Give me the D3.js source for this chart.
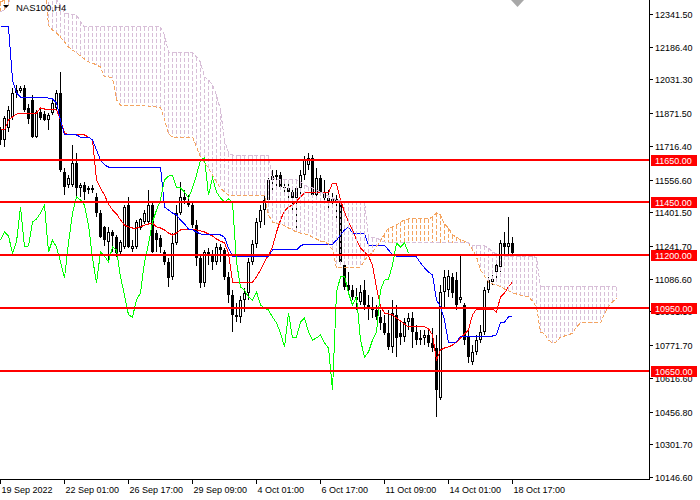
<!DOCTYPE html>
<html><head><meta charset="utf-8">
<script src="https://cdn.jsdelivr.net/npm/d3@7"></script>
<style>
html,body{margin:0;padding:0;background:#fff;}
svg{display:block;}
text{font-family:"Liberation Sans",Arial,sans-serif;}
</style></head><body>
<svg id="c" width="700" height="500"></svg>
<script>
// ---- DATA (NAS100, H4) ----
const opens = [11792,11744,11801,11853,11967,11976,11991,11896,11934,11758,
11877,11867,11839,11872,11896,11967,11592,11531,11531,11635,
11517,11531,11507,11507,11474,11398,11332,11261,11308,11284,
11213,11237,11436,11227,11237,11327,11355,11355,11436,11303,
11280,11213,11166,11095,11256,11398,11474,11446,11436,11341,
11185,11066,11213,11194,11166,11237,11223,11095,11009,10915,
10905,10986,11019,11166,11251,11355,11412,11460,11555,11573,
11578,11521,11517,11498,11469,11517,11578,11626,11659,11483,
11564,11498,11469,11450,11465,11450,11152,11057,11033,11000,
10976,11033,10962,10948,10938,10905,10877,10829,10763,10915,
10829,10810,10881,10900,10834,10796,10806,10820,10782,10758,
10521,11024,11033,11095,11080,10986,10962,10810,10692,10739,
10796,10834,11033,11071,11118,11142,11256,11237,11256];
const highs = [11806,11858,11905,11991,12005,12000,12005,11915,11958,11886,
11896,11882,11872,11934,11981,12067,11611,11578,11720,11683,
11540,11545,11526,11531,11493,11412,11336,11332,11318,11294,
11270,11436,11474,11270,11365,11374,11412,11507,11446,11318,
11294,11223,11185,11303,11436,11545,11507,11483,11446,11365,
11199,11223,11232,11223,11256,11251,11232,11118,11033,10971,
11005,11043,11185,11270,11374,11436,11483,11564,11602,11602,
11592,11555,11540,11526,11517,11602,11668,11683,11673,11611,
11578,11555,11507,11493,11483,11460,11166,11118,11057,11043,
11057,11080,11009,11000,10962,10938,10915,10938,10986,10962,
10891,10900,10924,10929,10867,10843,10843,10853,10853,10820,
11057,11128,11128,11114,11118,11199,10971,10843,10772,10820,
10867,11047,11095,11104,11166,11270,11308,11379,11284];
const lows = [11720,11711,11782,11839,11943,11967,11877,11820,11754,11754,
11839,11834,11792,11863,11886,11592,11483,11517,11521,11474,
11474,11460,11488,11493,11379,11280,11242,11175,11213,11190,
11204,11227,11232,11213,11227,11318,11346,11351,11208,11213,
11208,11152,11047,11080,11246,11389,11441,11427,11327,11147,
11043,11047,11152,11128,11152,11166,11080,10971,10834,10881,
10877,10929,10986,11152,11232,11327,11341,11446,11507,11507,
11507,11498,11460,11412,11308,11483,11555,11602,11474,11479,
11483,11460,11412,11422,11365,11152,11033,11019,10986,10938,
10962,10938,10891,10900,10891,10843,10820,10749,10734,10715,
10772,10787,10843,10758,10772,10772,10772,10763,10739,10431,
10512,10948,11000,10995,10938,10971,10772,10687,10678,10725,
10782,10820,11019,11057,11080,11118,11190,11199,11204];
const closes = [11744,11848,11886,11967,11981,11991,11886,11844,11758,11877,
11848,11839,11863,11920,11967,11602,11521,11564,11635,11517,
11531,11498,11517,11517,11398,11284,11270,11308,11289,11208,
11261,11427,11237,11242,11355,11370,11398,11436,11213,11270,
11237,11166,11090,11256,11398,11474,11460,11436,11341,11185,
11066,11213,11194,11166,11237,11223,11095,11009,10915,10905,
10986,11019,11166,11251,11355,11412,11460,11555,11573,11578,
11521,11517,11498,11469,11517,11578,11649,11659,11483,11564,
11498,11469,11450,11465,11450,11166,11047,11033,11000,10986,
11024,10962,10948,10938,10905,10877,10829,10763,10924,10806,
10810,10881,10900,10834,10796,10806,10820,10782,10758,10559,
11024,11095,11099,11019,10962,11000,10796,10715,10739,10796,
10834,11033,11080,11085,11152,11256,11237,11256,11208];

const tenkan = [11792,11792,11839,11853,11867,11872,11872,11872,11872,11872,
11896,11891,11891,11891,11886,11839,11777,11768,11768,11768,
11768,11768,11758,11744,11555,11517,11483,11441,11412,11394,
11365,11341,11332,11327,11327,11332,11341,11346,11351,11332,
11327,11318,11303,11294,11303,11318,11318,11318,11318,11318,
11313,11308,11299,11289,11275,11265,11256,11208,11071,11071,
11071,11071,11071,11071,11095,11128,11166,11199,11237,11308,
11365,11408,11427,11436,11455,11474,11493,11493,11493,11493,
11493,11493,11493,11540,11536,11460,11403,11355,11318,11270,
11232,11213,11194,11152,11043,10957,10924,10920,10915,10900,
10886,10872,10858,10858,10858,10858,10858,10849,10820,10701,
10749,10758,10763,10772,10787,10806,10825,10844,10915,10943,
10943,10943,10943,10943,10929,11000,11019,11048,11071];
const kijun = [12280,12280,12280,12029,11967,11948,11948,11948,11948,11948,
11948,11948,11943,11939,11920,11839,11768,11768,11768,11768,
11758,11758,11758,11744,11697,11649,11626,11616,11616,11616,
11616,11616,11616,11616,11616,11616,11616,11616,11616,11616,
11616,11427,11412,11398,11389,11365,11346,11322,11318,11308,
11299,11294,11294,11294,11294,11294,11284,11232,11194,11194,
11194,11194,11194,11194,11194,11194,11194,11194,11223,11223,
11223,11223,11223,11223,11223,11242,11251,11251,11251,11251,
11251,11251,11251,11251,11270,11294,11318,11332,11303,11303,
11303,11303,11246,11246,11246,11246,11246,11223,11199,11194,
11194,11194,11194,11194,11190,11161,11138,11118,11104,10986,
10953,10891,10782,10782,10787,10815,10815,10815,10815,10815,
10815,10815,10815,10815,10820,10877,10881,10905,10910];
// Senkou spans, already shifted 26 bars forward (index 0 = first visible bar)
const spanA = [12398,12408,12446,12503,12503,12503,12503,12503,12503,12503,
12503,12503,12289,12266,12251,12232,12209,12185,12171,12157,
12142,12128,12114,12109,12100,12090,12043,12043,12038,11934,
11910,11910,11910,11910,11910,11910,11910,11905,11905,11900,
11900,11839,11773,11758,11758,11758,11758,11758,11758,11711,
11664,11635,11611,11578,11545,11517,11498,11483,11483,11483,
11483,11483,11483,11483,11483,11483,11483,11389,11355,11346,
11346,11337,11327,11318,11308,11303,11299,11294,11284,11275,
11265,11261,11251,11223,11138,11138,11138,11138,11138,11138,
11142,11175,11194,11213,11237,11265,11299,11327,11332,11341,
11355,11365,11370,11370,11370,11370,11370,11370,11379,11398,
11389,11346,11327,11294,11284,11270,11265,11256,11223,11190,
11128,11099,11071,11062,11057,11048,11038,11029,11019,11014,
11009,11005,11000,10981,10953,10834,10825,10796,10782,10787,
10810,10815,10820,10829,10858,10877,10877,10877,10877,10877,
10877,10920,10953,10976,10995];
const spanB = [12351,12361,12384,12503,12503,12503,12503,12503,12503,12503,
12503,12503,12455,12432,12408,12384,12346,12342,12337,12337,
12304,12280,12280,12280,12280,12280,12280,12280,12280,12280,
12280,12280,12280,12280,12280,12280,12280,12280,12280,12280,
12280,12242,12161,12161,12161,12161,12161,12161,12157,12138,
12114,12043,12029,12005,11958,11886,11744,11683,11673,11673,
11673,11673,11673,11673,11673,11673,11673,11673,11564,11555,
11555,11555,11555,11555,11555,11545,11531,11521,11517,11507,
11498,11488,11479,11469,11460,11455,11455,11455,11455,11455,
11455,11455,11284,11280,11280,11270,11261,11256,11256,11256,
11256,11256,11256,11256,11256,11256,11256,11256,11256,11256,
11256,11256,11256,11256,11256,11256,11256,11256,11246,11246,
11246,11242,11232,11213,11204,11199,11194,11194,11194,11194,
11194,11194,11194,11194,11185,11052,11052,11052,11052,11052,
11052,11052,11052,11052,11052,11052,11052,11052,11052,11052,
11052,11052,11052,11052,11048];
const chikouShift = 26;

const priceTicks = [12341.5,12186.4,12031.3,11871.5,11716.4,11556.6,11401.5,11241.7,
11086.6,10931.5,10771.7,10616.6,10456.8,10301.7,10146.6];
const timeLabels = ["19 Sep 2022","22 Sep 01:00","26 Sep 17:00","29 Sep 09:00","4 Oct 01:00",
"6 Oct 17:00","11 Oct 09:00","14 Oct 01:00","18 Oct 17:00"];
const timeLabelBars = [0,16,32,48,64,80,96,112,128];
const levels = [11650,11450,11200,10950,10650];
const symbolTitle = "NAS100,H4";

// ---- DRAWING ----
const svg = d3.select('#c');
const plotW = 649, plotH = 479;
const x = d3.scaleLinear().domain([0,154]).range([0.5,616.5]);
const y = d3.scaleLinear().domain([10146.6,12341.5]).range([477,14]);

svg.append('defs').append('clipPath').attr('id','clip')
  .append('rect').attr('x',0).attr('y',0).attr('width',plotW).attr('height',plotH);
const g = svg.append('g').attr('clip-path','url(#clip)').attr('shape-rendering','crispEdges');

// candles
const bars = d3.range(opens.length).map(i=>({i,o:opens[i],h:highs[i],l:lows[i],c:closes[i]}));
g.append('g').selectAll('line').data(bars).join('line')
  .attr('x1',d=>x(d.i)).attr('x2',d=>x(d.i))
  .attr('y1',d=>y(d.h)).attr('y2',d=>y(d.l))
  .attr('stroke','#000').attr('stroke-width',1);
g.append('g').selectAll('rect').data(bars.filter(d=>d.c<d.o)).join('rect')
  .attr('x',d=>x(d.i)-1.5).attr('width',3)
  .attr('y',d=>y(d.o)).attr('height',d=>Math.max(1,y(d.c)-y(d.o)))
  .attr('fill','#000');
g.append('g').selectAll('rect').data(bars.filter(d=>d.c>=d.o)).join('rect')
  .attr('x',d=>x(d.i)-1).attr('width',2)
  .attr('y',d=>y(d.c)+0.5).attr('height',d=>Math.max(0.5,y(d.o)-y(d.c)-1))
  .attr('fill','#fff').attr('stroke','#000').attr('stroke-width',1);

// tenkan / kijun
const line = d3.line().x((d,i)=>x(i)).y(d=>y(d));
g.append('path').attr('d',line(tenkan)).attr('fill','none').attr('stroke','#ff0000').attr('stroke-width',1);
g.append('path').attr('d',line(kijun)).attr('fill','none').attr('stroke','#0000ff').attr('stroke-width',1);

// kumo histogram
const kumo = d3.range(spanA.length).map(k=>({k,a:spanA[k],b:spanB[k]})).filter(d=>d.a!==d.b);
g.append('g').selectAll('line').data(kumo).join('line')
  .attr('x1',d=>x(d.k)).attr('x2',d=>x(d.k))
  .attr('y1',d=>y(Math.max(d.a,d.b))).attr('y2',d=>y(Math.min(d.a,d.b)))
  .attr('stroke',d=>d.a>d.b?'#f4a460':'#d8bfd8')
  .attr('stroke-width',1).attr('stroke-dasharray','4,2');

// chikou span: closes plotted 26 bars back
const chikou = closes.slice(chikouShift);
g.append('path').attr('d',line(chikou)).attr('fill','none').attr('stroke','#00ff00').attr('stroke-width',1);

// span lines
g.append('path').attr('d',line(spanA)).attr('fill','none').attr('stroke','#f4a460').attr('stroke-width',1).attr('stroke-dasharray','4,2');
g.append('path').attr('d',line(spanB)).attr('fill','none').attr('stroke','#d8bfd8').attr('stroke-width',1).attr('stroke-dasharray','4,2');

// horizontal levels
g.append('g').selectAll('line').data(levels).join('line')
  .attr('x1',0).attr('x2',plotW)
  .attr('y1',d=>Math.round(y(d))).attr('y2',d=>Math.round(y(d)))
  .attr('stroke','#ff0000').attr('stroke-width',2);

// axes
const ax = svg.append('g').attr('shape-rendering','crispEdges');
ax.append('line').attr('x1',plotW+0.5).attr('x2',plotW+0.5).attr('y1',0).attr('y2',plotH+0.5).attr('stroke','#000');
ax.append('line').attr('x1',0).attr('x2',plotW+0.5).attr('y1',plotH+0.5).attr('y2',plotH+0.5).attr('stroke','#000');

// price ticks
ax.selectAll('line.pt').data(priceTicks).join('line').attr('class','pt')
  .attr('x1',plotW+0.5).attr('x2',plotW+4)
  .attr('y1',d=>Math.round(y(d))+0.5).attr('y2',d=>Math.round(y(d))+0.5).attr('stroke','#000');
svg.append('g').selectAll('text').data(priceTicks).join('text')
  .attr('x',655).attr('y',d=>Math.round(y(d))+3.5)
  .attr('font-size','9px').attr('fill','#000')
  .text(d=>d.toFixed(2));

// time ticks
ax.selectAll('line.tt').data(timeLabelBars).join('line').attr('class','tt')
  .attr('x1',d=>x(d)).attr('x2',d=>x(d))
  .attr('y1',plotH+0.5).attr('y2',plotH+5).attr('stroke','#000');
svg.append('g').selectAll('text').data(timeLabels).join('text')
  .attr('x',(d,i)=>x(timeLabelBars[i])+1).attr('y',493)
  .attr('font-size','9px').attr('fill','#000')
  .text(d=>d);

// level labels
const lv = svg.append('g');
lv.selectAll('rect').data(levels).join('rect')
  .attr('x',651).attr('width',46)
  .attr('y',d=>Math.round(y(d))-5).attr('height',11)
  .attr('fill','#ff0000').attr('shape-rendering','crispEdges');
lv.selectAll('text').data(levels).join('text')
  .attr('x',655).attr('y',d=>Math.round(y(d))+4)
  .attr('font-size','9px').attr('fill','#fff')
  .text(d=>d.toFixed(2));

// title
svg.append('path').attr('d','M3,5L9,5L6,8Z').attr('fill','#000');
svg.append('text').attr('x',16).attr('y',11).attr('font-size','9.5px').attr('fill','#000').text(symbolTitle);
// chart shift marker
svg.append('path').attr('d','M511,0L524,0L517.5,7Z').attr('fill','#a8a8a8');
</script>
</body></html>
